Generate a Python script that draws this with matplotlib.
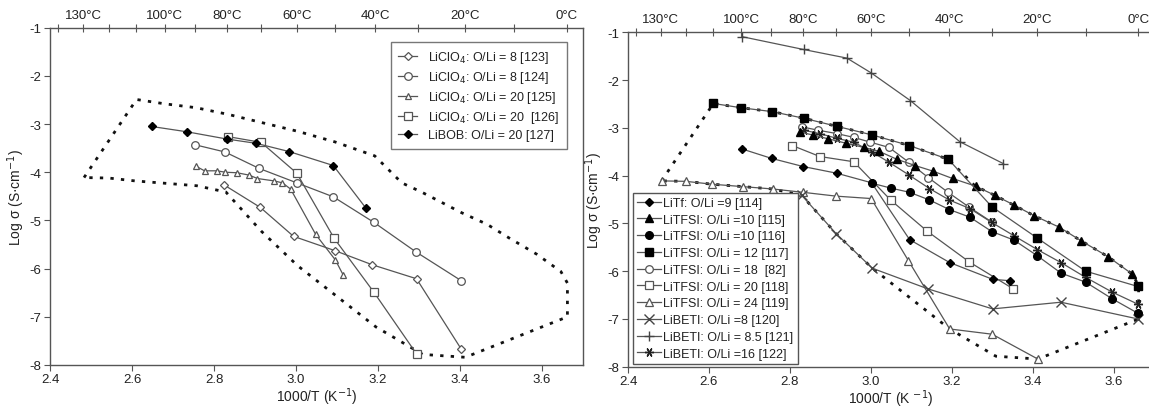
import matplotlib
matplotlib.use("Agg")
import matplotlib.pyplot as plt
import numpy as np

plt.rcParams['font.family'] = ['Liberation Sans', 'DejaVu Sans']

# ---------------- data ----------------
# envelope (dotted polygon), shared by both panels
poly_x = [2.483, 2.611, 2.680, 2.756, 2.835, 2.917, 3.004, 3.095, 3.192, 3.258, 3.306, 3.354, 3.404,
          3.466, 3.519, 3.587, 3.646, 3.662, 3.662, 3.413, 3.309, 3.195, 3.004, 2.915, 2.829, 2.758,
          2.683, 2.608, 2.543, 2.483]
poly_y = [-4.11, -2.49, -2.58, -2.66, -2.80, -2.97, -3.15, -3.37, -3.66, -4.22, -4.41, -4.62, -4.84,
          -5.08, -5.36, -5.70, -6.06, -6.30, -7.00, -7.84, -7.78, -7.21, -5.94, -5.22, -4.41, -4.28,
          -4.23, -4.18, -4.12, -4.11]

# left panel
l123_x = [2.824, 2.913, 2.994, 3.096, 3.186, 3.294, 3.403]
l123_y = [-4.26, -4.73, -5.33, -5.63, -5.92, -6.21, -7.67]
l124_x = [2.754, 2.827, 2.910, 3.002, 3.091, 3.190, 3.292, 3.403]
l124_y = [-3.43, -3.58, -3.92, -4.22, -4.51, -5.04, -5.65, -6.25]
l125_x = [2.757, 2.777, 2.807, 2.828, 2.856, 2.886, 2.906, 2.947, 2.967, 2.987, 3.048, 3.096, 3.115]
l125_y = [-3.88, -3.97, -3.97, -4.00, -4.01, -4.06, -4.13, -4.18, -4.22, -4.35, -5.29, -5.82, -6.13]
l126_x = [2.834, 2.915, 3.002, 3.093, 3.190, 3.294]
l126_y = [-3.26, -3.38, -4.02, -5.37, -6.49, -7.77]
l127_x = [2.648, 2.734, 2.831, 2.903, 2.983, 3.091, 3.171]
l127_y = [-3.05, -3.16, -3.31, -3.40, -3.57, -3.86, -4.75]

left_labels = ["LiClO$_4$: O/Li = 8 [123]", "LiClO$_4$: O/Li = 8 [124]", "LiClO$_4$: O/Li = 20 [125]",
               "LiClO$_4$: O/Li = 20  [126]", "LiBOB: O/Li = 20 [127]"]

# right panel
r114_x = [2.681, 2.755, 2.833, 2.916, 3.002, 3.096, 3.195, 3.301, 3.343]
r114_y = [-3.44, -3.64, -3.81, -3.95, -4.15, -5.34, -5.82, -6.17, -6.20]
r115_x = [2.826, 2.857, 2.895, 2.938, 2.983, 3.020, 3.065, 3.110, 3.155, 3.202, 3.259, 3.306, 3.355,
          3.404, 3.466, 3.519, 3.587, 3.646]
r115_y = [-3.09, -3.15, -3.23, -3.32, -3.41, -3.49, -3.66, -3.79, -3.91, -4.06, -4.22, -4.41, -4.62,
          -4.84, -5.08, -5.36, -5.70, -6.06]
r116_x = [3.003, 3.049, 3.096, 3.145, 3.194, 3.245, 3.299, 3.354, 3.412, 3.470, 3.531, 3.597, 3.660]
r116_y = [-4.16, -4.26, -4.35, -4.51, -4.71, -4.87, -5.17, -5.35, -5.68, -6.04, -6.23, -6.58, -6.88]
r117_x = [2.611, 2.680, 2.756, 2.835, 2.917, 3.004, 3.095, 3.192, 3.299, 3.412, 3.531, 3.660]
r117_y = [-2.49, -2.58, -2.66, -2.80, -2.97, -3.15, -3.37, -3.66, -4.65, -5.31, -6.00, -6.32]
r82_x = [2.830, 2.870, 2.916, 2.958, 2.999, 3.045, 3.094, 3.142, 3.191, 3.243, 3.299]
r82_y = [-2.98, -3.05, -3.12, -3.20, -3.30, -3.41, -3.72, -4.04, -4.35, -4.66, -4.97]
r118_x = [2.806, 2.874, 2.958, 3.049, 3.139, 3.244, 3.352]
r118_y = [-3.37, -3.60, -3.71, -4.51, -5.16, -5.81, -6.37]
r119_x = [2.483, 2.543, 2.608, 2.683, 2.758, 2.833, 2.915, 3.001, 3.093, 3.195, 3.300, 3.413]
r119_y = [-4.11, -4.12, -4.18, -4.23, -4.28, -4.35, -4.43, -4.48, -5.78, -7.21, -7.32, -7.84]
r120_x = [2.829, 2.915, 3.004, 3.141, 3.301, 3.470, 3.660]
r120_y = [-4.41, -5.22, -5.94, -6.37, -6.79, -6.65, -7.00]
r121_x = [2.681, 2.834, 2.941, 3.001, 3.098, 3.220, 3.328]
r121_y = [-1.09, -1.36, -1.54, -1.85, -2.43, -3.29, -3.75]
r122_x = [2.834, 2.874, 2.916, 2.958, 3.002, 3.045, 3.095, 3.145, 3.194, 3.245, 3.299, 3.354, 3.412,
          3.470, 3.531, 3.597, 3.660]
r122_y = [-3.05, -3.12, -3.22, -3.30, -3.50, -3.72, -3.99, -4.27, -4.51, -4.69, -4.98, -5.26, -5.55,
          -5.82, -6.13, -6.44, -6.69]

right_labels = ["LiTf: O/Li =9 [114]", "LiTFSI: O/Li =10 [115]", "LiTFSI: O/Li =10 [116]",
                "LiTFSI: O/Li = 12 [117]", "LiTFSI: O/Li = 18  [82]", "LiTFSI: O/Li = 20 [118]",
                "LiTFSI: O/Li = 24 [119]", "LiBETI: O/Li =8 [120]", "LiBETI: O/Li = 8.5 [121]",
                "LiBETI: O/Li =16 [122]"]

temp_ticks = [140, 130, 120, 110, 100, 90, 80, 70, 60, 50, 40, 30, 20, 10, 0]
temp_labels = [130, 100, 80, 60, 40, 20, 0]
x_ticks = [2.4, 2.6, 2.8, 3.0, 3.2, 3.4, 3.6]
y_ticks = [-1, -2, -3, -4, -5, -6, -7, -8]

# ---------------- styling ----------------
LC = '#555555'
TXT = '#222222'
FS = 9.5

fig = plt.figure(figsize=(11.49, 4.10), dpi=100)
axL = fig.add_axes([50/1149, 44/410, 533/1149, 337.3/410])
axR = fig.add_axes([628/1149, 42.3/410, 526/1149, 334.4/410])


def style_axes(ax, xlabel):
    ax.set_xlim(2.4, 3.7)
    ax.set_ylim(-8, -1)
    ax.set_xticks(x_ticks)
    ax.set_xticklabels([f"{v:.1f}" for v in x_ticks], fontsize=FS, color=TXT)
    ax.set_yticks(y_ticks)
    ax.set_yticklabels([f"{v:d}" for v in y_ticks], fontsize=FS, color=TXT)
    ax.tick_params(axis='both', direction='out', length=4, width=0.8, color=LC, pad=2)
    for s in ax.spines.values():
        s.set_color(LC)
        s.set_linewidth(1.0)
    ax.set_xlabel(xlabel, fontsize=FS + 0.5, color=TXT, labelpad=0)
    ax.set_ylabel("Log \u03c3 (S\u00b7cm$^{-1}$)", fontsize=FS + 0.5, color=TXT, labelpad=2)
    # top temperature axis
    top = ax.twiny()
    top.set_xlim(ax.get_xlim())
    pos = [1000.0 / (t + 273.15) for t in temp_ticks]
    top.set_xticks(pos)
    top.set_xticklabels([f"{t}\u00b0C" if t in temp_labels else "" for t in temp_ticks],
                        fontsize=FS, color=TXT)
    top.tick_params(axis='x', direction='inout', length=6, width=0.8, color=LC, pad=2)
    for s in top.spines.values():
        s.set_visible(False)
    ax.plot(poly_x, poly_y, linestyle=(0, (1.2, 2.6)), color='#111111', lw=2.0, zorder=1)


style_axes(axL, "1000/T (K$^{-1}$)")
style_axes(axR, "1000/T (K $^{-1}$)")

lw = 0.9
OE = '#555555'
# left series
axL.plot(l123_x, l123_y, color=LC, lw=lw, marker='D', ms=3.8, mfc='white', mec=OE, mew=0.9,
         label=left_labels[0], zorder=3)
axL.plot(l124_x, l124_y, color=LC, lw=lw, marker='o', ms=5.5, mfc='white', mec=OE, mew=0.9,
         label=left_labels[1], zorder=3)
axL.plot(l125_x, l125_y, color=LC, lw=lw, marker='^', ms=5, mfc='white', mec=OE, mew=0.9,
         label=left_labels[2], zorder=3)
axL.plot(l126_x, l126_y, color=LC, lw=lw, marker='s', ms=5.5, mfc='white', mec=OE, mew=0.9,
         label=left_labels[3], zorder=3)
axL.plot(l127_x, l127_y, color=LC, lw=lw, marker='D', ms=4.2, mfc='black', mec='black',
         label=left_labels[4], zorder=4)

legL = axL.legend(loc='upper right', bbox_to_anchor=(0.970, 0.958), borderaxespad=0,
                  fontsize=9, frameon=True, fancybox=False, edgecolor=LC, handlelength=1.5,
                  labelspacing=0.32, borderpad=0.6, handletextpad=0.9)
legL.get_frame().set_linewidth(1.0)
for t in legL.get_texts():
    t.set_color(TXT)

# right series
axR.plot(r114_x, r114_y, color=LC, lw=lw, marker='D', ms=4, mfc='black', mec='black',
         label=right_labels[0], zorder=4)
axR.plot(r115_x, r115_y, color=LC, lw=lw, marker='^', ms=5.5, mfc='black', mec='black',
         label=right_labels[1], zorder=4)
axR.plot(r116_x, r116_y, color=LC, lw=lw, marker='o', ms=5.5, mfc='black', mec='black',
         label=right_labels[2], zorder=4)
axR.plot(r117_x, r117_y, color=LC, lw=lw, marker='s', ms=5.5, mfc='black', mec='black',
         label=right_labels[3], zorder=4)
axR.plot(r82_x, r82_y, color=LC, lw=lw, marker='o', ms=5.5, mfc='white', mec=OE, mew=0.9,
         label=right_labels[4], zorder=3)
axR.plot(r118_x, r118_y, color=LC, lw=lw, marker='s', ms=5.5, mfc='white', mec=OE, mew=0.9,
         label=right_labels[5], zorder=3)
axR.plot(r119_x, r119_y, color=LC, lw=lw, marker='^', ms=5.5, mfc='white', mec=OE, mew=0.9,
         label=right_labels[6], zorder=3)
axR.plot(r120_x, r120_y, color=LC, lw=lw, marker='x', ms=7, mec='#444444', mew=1.0,
         label=right_labels[7], zorder=3)
axR.plot(r121_x, r121_y, color=LC, lw=lw, marker='+', ms=7.5, mec='#444444', mew=1.0,
         label=right_labels[8], zorder=3)
axR.plot(r122_x, r122_y, color=LC, lw=lw, marker=(6, 2, 90), ms=6.5, mec='#222222', mew=1.0,
         label=right_labels[9], zorder=3)

legR = axR.legend(loc='lower left', bbox_to_anchor=(0.009, 0.008), borderaxespad=0,
                  fontsize=9, frameon=True, fancybox=False, edgecolor=LC, handlelength=1.9,
                  labelspacing=0.38, borderpad=0.35, handletextpad=0.2, framealpha=1)
legR.get_frame().set_linewidth(1.0)
for t in legR.get_texts():
    t.set_color(TXT)

fig.savefig("out.png", dpi=100)
